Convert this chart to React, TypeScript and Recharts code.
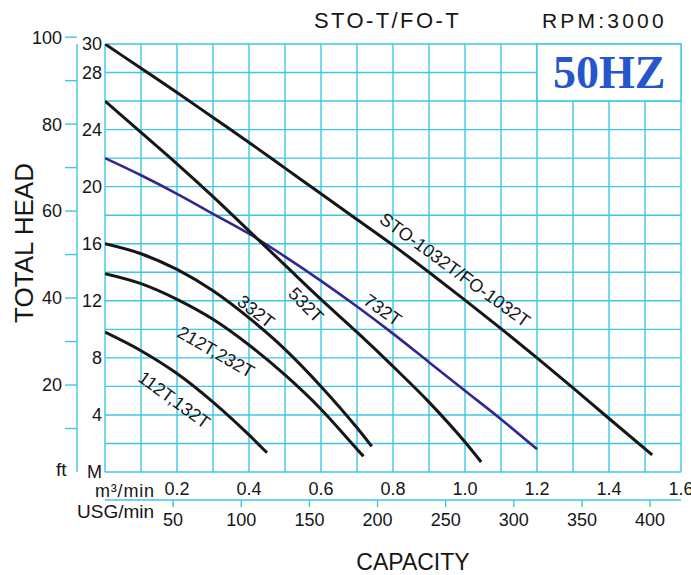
import React from 'react';
import { LineChart, Line, XAxis, YAxis, CartesianGrid, ReferenceArea, ReferenceDot } from 'recharts';

const FONT = '"Liberation Sans", Arial, Helvetica, sans-serif';
const CYAN = '#3ec6e6';
const INK = '#161616';

// pump curves, capacity in m3/min against total head in m
const sto1032T = [[0, 30], [0.1, 28.3], [0.2, 26.6], [0.3, 24.85], [0.4, 23.1], [0.5, 21.3], [0.6, 19.5], [0.7, 17.7], [0.8, 15.9], [0.9, 14.0], [1.0, 12.05], [1.1, 10.05], [1.2, 8.0], [1.3, 5.9], [1.4, 3.75], [1.52, 1.2]];
const t732 = [[0, 22], [0.1, 20.8], [0.2, 19.5], [0.3, 18.1], [0.4, 16.7], [0.5, 15.1], [0.6, 13.4], [0.7, 11.6], [0.8, 9.7], [0.9, 7.7], [1.0, 5.7], [1.1, 3.7], [1.2, 1.6]];
const t532 = [[0, 26], [0.1, 23.8], [0.2, 21.6], [0.3, 19.3], [0.4, 16.9], [0.5, 14.5], [0.6, 12.1], [0.7, 9.8], [0.8, 7.4], [0.9, 4.9], [1.0, 2.1], [1.045, 0.7]];
const t332 = [[0, 16], [0.1, 15.3], [0.2, 14.2], [0.3, 12.7], [0.4, 10.8], [0.5, 8.6], [0.6, 6.0], [0.7, 3.1], [0.741, 1.8]];
const t212 = [[0, 13.9], [0.1, 13.2], [0.2, 12.1], [0.3, 10.7], [0.4, 8.9], [0.5, 6.8], [0.6, 4.4], [0.7, 1.6], [0.718, 1.1]];
const t112 = [[0, 9.8], [0.1, 8.5], [0.2, 6.9], [0.3, 4.9], [0.4, 2.6], [0.45, 1.35]];

// axis ticks
const m3Ticks = [0.2, 0.4, 0.6, 0.8, 1.0, 1.2, 1.4, 1.6];
const usgTicks = [50, 100, 150, 200, 250, 300, 350, 400];
const meterTicks = [0, 4, 8, 12, 16, 20, 24, 28, 30];
const feetTicks = [10, 20, 30, 40, 50, 60, 70, 80, 90, 100];
const gridQ = [0, 0.1, 0.2, 0.3, 0.4, 0.5, 0.6, 0.7, 0.8, 0.9, 1.0, 1.1, 1.2, 1.3, 1.4, 1.5, 1.6];
const gridH = [0, 2, 4, 6, 8, 10, 12, 14, 16, 18, 20, 22, 24, 26, 28, 30];

const USG_PER_M3 = 264.172;
const FT_PER_M = 1 / 0.3048;

const rows = (pts) => pts.map(([q, h]) => ({ q, h }));

const curves = [
  { name: 'STO-1032T/FO-1032T', pts: sto1032T, color: INK, width: 3 },
  { name: '732T', pts: t732, color: '#33278f', width: 2.6 },
  { name: '532T', pts: t532, color: INK, width: 3 },
  { name: '332T', pts: t332, color: INK, width: 3 },
  { name: '212T,232T', pts: t212, color: INK, width: 3 },
  { name: '112T,132T', pts: t112, color: INK, width: 3 },
];

const curveLabels = [
  { text: 'STO-1032T/FO-1032T', q: 0.972, h: 14.16, angle: 36 },
  { text: '732T', q: 0.771, h: 11.35, angle: 35 },
  { text: '532T', q: 0.558, h: 11.7, angle: 45 },
  { text: '332T', q: 0.419, h: 11.24, angle: 38 },
  { text: '212T,232T', q: 0.308, h: 8.41, angle: 30 },
  { text: '112T,132T', q: 0.192, h: 5.05, angle: 36 },
];

const tickStyle = { fontFamily: FONT, fontSize: 18, fill: INK };

const rotatedText = (text, angle) => (props) => {
  const vb = props.viewBox || {};
  const cx = (vb.x || 0) + (vb.width || 0) / 2;
  const cy = (vb.y || 0) + (vb.height || 0) / 2;
  return (
    <text
      x={cx}
      y={cy}
      transform={`rotate(${angle} ${cx} ${cy})`}
      textAnchor="middle"
      dominantBaseline="central"
      fontFamily={FONT}
      fontSize={18}
      fill={INK}
    >
      {text}
    </text>
  );
};

// axis ids sort alphabetically; the first one sits next to the plot
export default function App() {
  return (
    <div style={{ position: 'absolute', left: 0, top: 0, width: 691, height: 575, background: '#fff' }}>
      <LineChart width={691} height={575} margin={{ top: 44, right: 10, bottom: 35, left: 0 }}>
        <XAxis
          xAxisId="a_m3"
          type="number"
          dataKey="q"
          domain={[0, 1.6]}
          allowDataOverflow
          ticks={m3Ticks}
          interval={0}
          tickFormatter={(v) => v.toFixed(1)}
          height={28}
          axisLine={false}
          tickLine={false}
          tickSize={0}
          tickMargin={10}
          tick={tickStyle}
        />
        <XAxis
          xAxisId="b_usg"
          type="number"
          dataKey="usg"
          domain={[0, 1.6 * USG_PER_M3]}
          allowDataOverflow
          ticks={usgTicks}
          interval={0}
          height={40}
          axisLine={{ stroke: CYAN, strokeWidth: 1.4 }}
          tickLine={{ stroke: CYAN, strokeWidth: 1.4 }}
          tickSize={7}
          tickMargin={6}
          tick={tickStyle}
        />
        <YAxis
          yAxisId="a_m"
          type="number"
          domain={[0, 30]}
          allowDataOverflow
          ticks={meterTicks}
          interval={0}
          tickFormatter={(v) => (v === 0 ? 'M' : String(v))}
          width={28}
          axisLine={false}
          tickLine={false}
          tickSize={0}
          tickMargin={3}
          tick={tickStyle}
        />
        <YAxis
          yAxisId="b_ft"
          type="number"
          domain={[0, 30 * FT_PER_M]}
          allowDataOverflow
          ticks={feetTicks}
          interval={0}
          tickFormatter={(v) => (v % 20 === 0 ? String(v) : '')}
          width={77}
          axisLine={{ stroke: CYAN, strokeWidth: 1.4 }}
          tickLine={{ stroke: CYAN, strokeWidth: 1.4 }}
          tickSize={12}
          tickMargin={3}
          tick={tickStyle}
        />
        <CartesianGrid
          xAxisId="a_m3"
          yAxisId="a_m"
          verticalValues={gridQ}
          horizontalValues={gridH}
          stroke={CYAN}
          strokeWidth={1.4}
        />
        <ReferenceArea
          xAxisId="a_m3"
          yAxisId="a_m"
          x1={1.2}
          x2={1.6}
          y1={26}
          y2={30}
          fill="#fff"
          fillOpacity={1}
          stroke={CYAN}
          strokeWidth={1.4}
        />
        {curves.map((c) => (
          <Line
            key={c.name}
            xAxisId="a_m3"
            yAxisId="a_m"
            data={rows(c.pts)}
            dataKey="h"
            type="monotone"
            stroke={c.color}
            strokeWidth={c.width}
            dot={false}
            activeDot={false}
            isAnimationActive={false}
          />
        ))}
        {curveLabels.map((l) => (
          <ReferenceDot
            key={l.text}
            xAxisId="a_m3"
            yAxisId="a_m"
            x={l.q}
            y={l.h}
            r={1}
            fill="none"
            stroke="none"
            label={rotatedText(l.text, l.angle)}
          />
        ))}
      </LineChart>
      <svg width={691} height={575} style={{ position: 'absolute', left: 0, top: 0, pointerEvents: 'none' }}>
        <g fontFamily={FONT} fill={INK}>
          <text x={314} y={28} fontSize={22} letterSpacing={2.4}>STO-T/FO-T</text>
          <text x={542} y={28} fontSize={21} letterSpacing={3.2}>RPM:3000</text>
          <text x={33} y={243} fontSize={26} textAnchor="middle" transform="rotate(-90 33 243)">TOTAL HEAD</text>
          <text x={413} y={570} fontSize={23} textAnchor="middle">CAPACITY</text>
          <text x={56} y={476} fontSize={19}>ft</text>
          <text x={95} y={497} fontSize={18} letterSpacing={0.8}>m³/min</text>
          <text x={77} y={518} fontSize={19}>USG/min</text>
        </g>
        <text x={553} y={88} fontFamily='"Liberation Serif", "Times New Roman", serif' fontSize={46} fontWeight="bold" fill="#2456cc">50HZ</text>
      </svg>
    </div>
  );
}
